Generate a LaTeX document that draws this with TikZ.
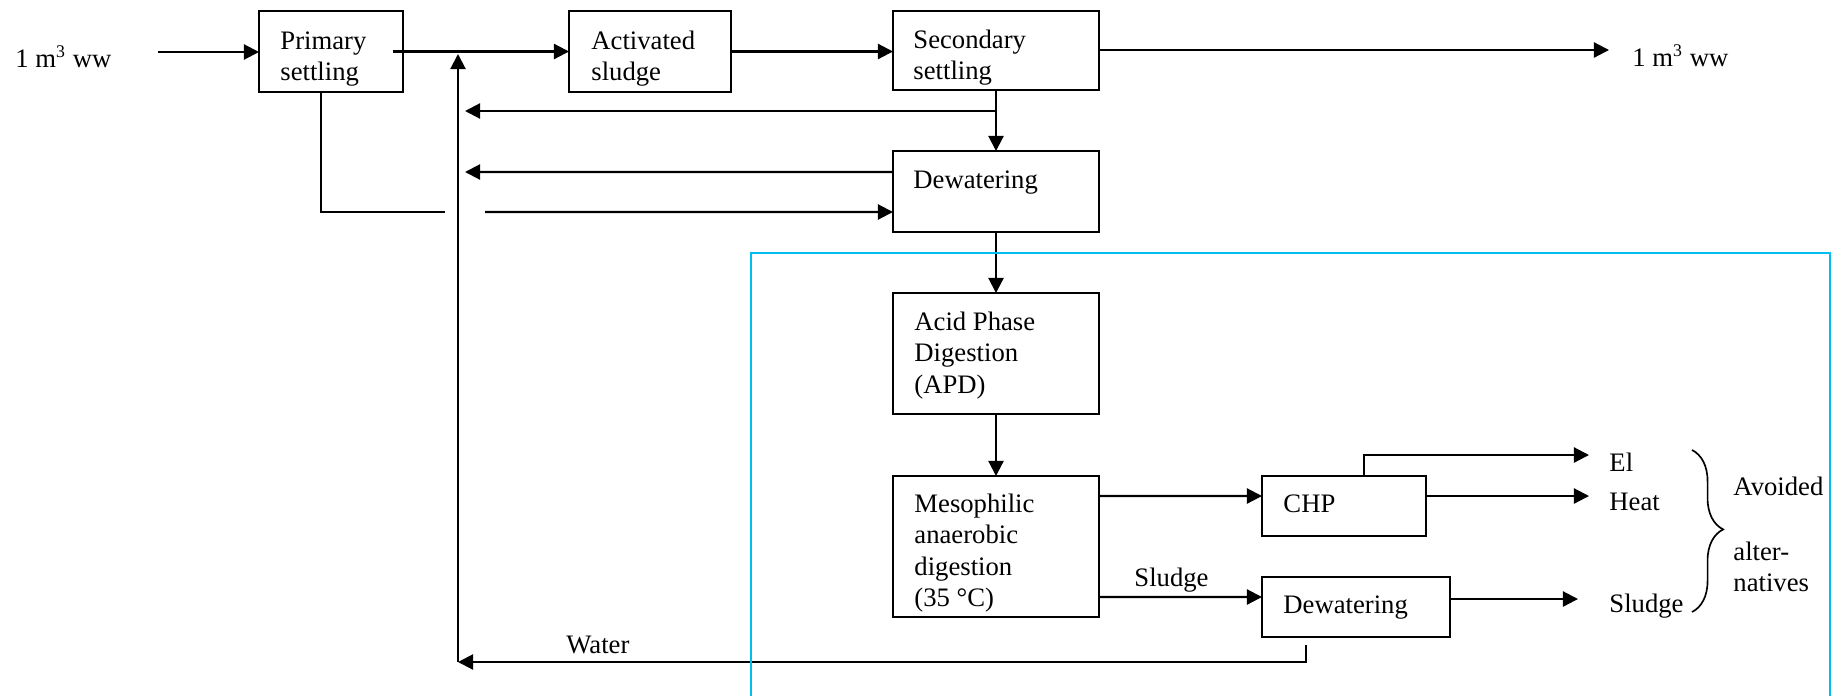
\documentclass[tikz,border=0pt]{standalone}
\usepackage{fontspec}
\setmainfont{Liberation Serif}
\usetikzlibrary{arrows.meta,fit,calc,decorations.pathreplacing}
\definecolor{frameblue}{RGB}{0,190,240}
% multi-line text whose baseline is that of its first line
\newcommand{\txtlines}[1]{\begin{tabular}[t]{@{}l@{}}#1\end{tabular}}
\begin{document}
\begin{tikzpicture}[x=0.45pt,y=-0.45pt,
  box/.style={draw, line width=0.95pt, inner sep=0pt, outer sep=0pt},
  lbl/.style={inner sep=0pt, anchor=base west,
    font=\fontsize{12}{14.2}\selectfont},
  flow/.style={line width=0.95pt},
  arr/.style={line width=0.95pt, -{Triangle[length=6.8pt,width=6.8pt]}}]
\useasboundingbox (0,0) rectangle (1838,696);

% process boxes
\node[box, fit={(259,11) (403,92)}]    (ps)   {};
\node[box, fit={(569,11) (731,92)}]    (as)   {};
\node[box, fit={(893,11) (1099,90)}]   (ss)   {};
\node[box, fit={(893,151) (1099,232)}] (dw)   {};
\node[box, fit={(893,293) (1099,414)}] (apd)  {};
\node[box, fit={(893,476) (1099,617)}] (mad)  {};
\node[box, fit={(1262,476) (1426,536)}] (chp) {};
\node[box, fit={(1262,577) (1450,637)}] (dw2) {};

% box texts
\node[lbl] (ps-t)  at (280,49)  {\txtlines{Primary\\settling}};
\node[lbl] (as-t)  at (591,49)  {\txtlines{Activated\\sludge}};
\node[lbl] (ss-t)  at (913,48)  {\txtlines{Secondary\\settling}};
\node[lbl] (dw-t)  at (913,188) {Dewatering};
\node[lbl] (apd-t) at (914,330) {\txtlines{Acid Phase\\Digestion\\(APD)}};
\node[lbl] (mad-t) at (914,512) {\txtlines{Mesophilic\\anaerobic\\digestion\\(35 °C)}};
\node[lbl] (chp-t) at (1283,512) {CHP};
\node[lbl] (dw2-t) at (1283,613) {Dewatering};

% free labels
\node[lbl] (win)   at (15,67)    {1 m\textsuperscript{3} ww};
\node[lbl] (wout)  at (1632,66)  {1 m\textsuperscript{3} ww};
\node[lbl] (el)    at (1609,471) {El};
\node[lbl] (heat)  at (1609,510) {Heat};
\node[lbl] (sl)    at (1609,612) {Sludge};
\node[lbl] (sl-l)  at (1134,586) {Sludge};
\node[lbl] (wat)   at (566,653)  {Water};
\node[lbl] (avd)   at (1733,495) {Avoided};
\node[lbl] (alt)   at (1733,560) {\txtlines{alter-\\natives}};

% connector end points
\coordinate (inp)   at (158,52);
\coordinate (outp)  at (1609,50);
\coordinate (retb)  at (458,662);
\coordinate (rett)  at (458,54);
\coordinate (br)    at (465,111);
\coordinate (br2)   at (465,172);
\coordinate (gapl)  at (445,212);
\coordinate (gapr)  at (485,212);
\coordinate (elp)   at (1589,455);
\coordinate (heatp) at (1589,496);
\coordinate (slp)   at (1578,599);
\coordinate (wtop)  at (1306,645);

% main water line
\draw[arr] (inp) -- (inp -| ps.west);
\draw[arr] ([xshift=-4.5pt]ps.east) -- (as.west);
\draw[arr] (as.east) -- (as.east -| ss.west);
\draw[arr] (ss.east |- outp) -- (outp);

% sludge line
\draw[arr] (ss.south) -- (dw.north);
\draw[arr] (ss.south |- br) -- (br);
\draw[arr] ($(dw.north west)+(0,21)$) -- (br2);
\draw[flow] ($(ps.south west)+(62,0)$) |- (gapl);
\draw[arr] (gapr) -- ($(dw.north west)+(0,61)$);
\draw[arr] (dw.south) -- (apd.north);
\draw[arr] (apd.south) -- (mad.north);
\draw[arr] ($(mad.north east)+(0,20)$) -- ($(chp.north west)+(0,20)$);
\draw[arr] ($(mad.north east)+(0,121)$) -- ($(dw2.north west)+(0,20)$);

% products
\draw[arr] ($(chp.north west)+(102,0)$) |- (elp);
\draw[arr] ($(chp.north east)+(0,20)$) -- (heatp);
\draw[arr] ($(dw2.north east)+(0,22)$) -- (slp);

% water return
\draw[arr] (wtop) |- (retb);
\draw[arr] (retb) -- (rett);

% system boundary
\draw[frameblue, line width=0.9pt] (751,696) |- (1830,253) -- (1830,696);

% brace over the avoided products
\coordinate (bt) at (1692,450);
\coordinate (bb) at (1692,612);
\draw[line width=0.75pt, decorate, decoration={brace, amplitude=14pt, aspect=0.49}] (bt) -- (bb);
\end{tikzpicture}
\end{document}
